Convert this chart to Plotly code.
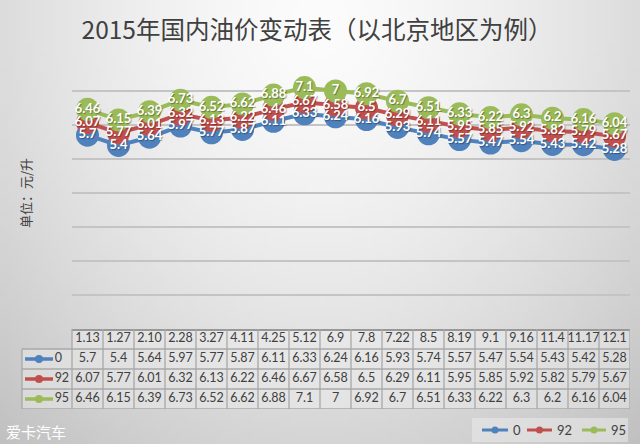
import plotly.graph_objects as go
import zlib, struct, base64

# ---------------- data ----------------
categories = ["1.13", "1.27", "2.10", "2.28", "3.27", "4.11", "4.25", "5.12", "6.9",
              "7.8", "7.22", "8.5", "8.19", "9.1", "9.16", "11.4", "11.17", "12.1"]
s0 = [5.7, 5.4, 5.64, 5.97, 5.77, 5.87, 6.11, 6.33, 6.24, 6.16, 5.93, 5.74, 5.57, 5.47, 5.54, 5.43, 5.42, 5.28]
s92 = [6.07, 5.77, 6.01, 6.32, 6.13, 6.22, 6.46, 6.67, 6.58, 6.5, 6.29, 6.11, 5.95, 5.85, 5.92, 5.82, 5.79, 5.67]
s95 = [6.46, 6.15, 6.39, 6.73, 6.52, 6.62, 6.88, 7.1, 7, 6.92, 6.7, 6.51, 6.33, 6.22, 6.3, 6.2, 6.16, 6.04]
series_names = ["0", "92", "95"]
series_values = [s0, s92, s95]
colors = ["#4F81BD", "#C0504D", "#9BBB59"]
title_text = "2015年国内油价变动表（以北京地区为例）"
y_title = "单位：元/升"
watermark = "爱卡汽车"

W, H = 640, 444


def px(x):
    return x / W


def py(y):
    return 1 - y / H


def fmt(v):
    return f"{v:g}"


# ---------------- background gradient image ----------------
def bg_png(w=128, h=89):
    raw = bytearray()
    for j in range(h):
        raw.append(0)
        for i in range(w):
            x = (i + 0.5) / w
            y = (j + 0.5) / h
            d = (((x - 0.5) / 0.6) ** 2 + ((y - 0.05) / 1.0) ** 2) ** 0.5
            v = int(max(0, min(255, 252 - 42 * d ** 1.5)))
            raw += bytes([v, v, v])

    def chunk(t, data):
        c = struct.pack(">I", len(data)) + t + data
        return c + struct.pack(">I", zlib.crc32(t + data) & 0xFFFFFFFF)

    png = (b"\x89PNG\r\n\x1a\n"
           + chunk(b"IHDR", struct.pack(">IIBBBBB", w, h, 8, 2, 0, 0, 0))
           + chunk(b"IDAT", zlib.compress(bytes(raw)))
           + chunk(b"IEND", b""))
    return "data:image/png;base64," + base64.b64encode(png).decode()


fig = go.Figure()

# ---------------- main lines (markers first, labels on top) ----------------
for name, vals, col in zip(series_names, series_values, colors):
    fig.add_trace(go.Scatter(
        x=categories, y=vals, name=name, mode="lines+markers",
        line=dict(color=col, width=4), marker=dict(size=23, color=col),
        cliponaxis=False, showlegend=False, hoverinfo="skip",
        xaxis="x", yaxis="y"))
for name, vals, col in zip(series_names, series_values, colors):
    fig.add_trace(go.Scatter(
        x=categories, y=vals, mode="text",
        text=[fmt(v) for v in vals], textposition="middle center",
        textfont=dict(family="Lato", size=13, color="white", weight="bold",
                      shadow="1px 1px 1px rgba(0,0,0,0.35)"),
        cliponaxis=False, showlegend=False, hoverinfo="skip",
        xaxis="x", yaxis="y"))

# ---------------- data table (x2 / y2) ----------------
idx = list(range(len(categories)))
fig.add_trace(go.Scatter(
    x=idx, y=[0.5] * len(idx), mode="text", text=categories,
    textfont=dict(family="Lato", size=12.5, color="#404040"),
    showlegend=False, hoverinfo="skip", xaxis="x2", yaxis="y2"))
for r, (name, vals, col) in enumerate(zip(series_names, series_values, colors)):
    fig.add_trace(go.Scatter(
        x=idx, y=[r + 1.5] * len(idx), mode="text", text=[fmt(v) for v in vals],
        textfont=dict(family="Lato", size=12.5, color="#404040"),
        showlegend=False, hoverinfo="skip", xaxis="x2", yaxis="y2"))
    # legend key inside table
    fig.add_trace(go.Scatter(
        x=[-2.016, -1.113], y=[r + 1.5] * 2, mode="lines",
        line=dict(color=col, width=3.5),
        showlegend=False, hoverinfo="skip", xaxis="x2", yaxis="y2"))
    fig.add_trace(go.Scatter(
        x=[-1.565], y=[r + 1.5], mode="markers",
        marker=dict(size=8, color=col),
        showlegend=False, hoverinfo="skip", xaxis="x2", yaxis="y2"))
    fig.add_trace(go.Scatter(
        x=[-1.06], y=[r + 1.5], mode="text", text=[name], textposition="middle right",
        textfont=dict(family="Lato", size=12.5, color="#404040"),
        showlegend=False, hoverinfo="skip", xaxis="x2", yaxis="y2"))

x2_left = -0.5 - 50 / 31
shapes = []
# cell fills
shapes.append(dict(type="rect", xref="x2", yref="y2", x0=-0.5, x1=17.5, y0=0, y1=4,
                   fillcolor="rgba(240,240,240,0.45)", line=dict(width=0), layer="below"))
shapes.append(dict(type="rect", xref="x2", yref="y2", x0=x2_left, x1=-0.5, y0=1, y1=4,
                   fillcolor="rgba(240,240,240,0.45)", line=dict(width=0), layer="below"))
grid_col = "#a8a8a8"
for yy in [1, 2, 3, 4]:
    shapes.append(dict(type="line", xref="x2", yref="y2", x0=x2_left, x1=17.5, y0=yy, y1=yy,
                       line=dict(color=grid_col, width=1.3), layer="below"))
for k in range(len(categories) + 1):
    shapes.append(dict(type="line", xref="x2", yref="y2", x0=-0.5 + k, x1=-0.5 + k, y0=0, y1=4,
                       line=dict(color=grid_col, width=1.3), layer="below"))
shapes.append(dict(type="line", xref="x2", yref="y2", x0=x2_left, x1=x2_left, y0=1, y1=4,
                   line=dict(color=grid_col, width=1.3), layer="below"))

# ---------------- bottom-right legend (manual) ----------------
shapes.append(dict(type="rect", xref="paper", yref="paper", x0=px(472), x1=px(628),
                   y0=py(442), y1=py(418), fillcolor="rgba(235,235,235,0.55)",
                   line=dict(width=0), layer="below"))
annotations = []
leg_items = [(482, 508, "0"), (527, 552, "92"), (582, 606, "95")]
for (x0, x1, lab), col in zip(leg_items, colors):
    shapes.append(dict(type="line", xref="paper", yref="paper", x0=px(x0), x1=px(x1),
                       y0=py(430), y1=py(430), line=dict(color=col, width=3)))
    cx = (x0 + x1) / 2
    shapes.append(dict(type="circle", xref="paper", yref="paper", x0=px(cx - 3.5), x1=px(cx + 3.5),
                       y0=py(433.5), y1=py(426.5), fillcolor=col, line=dict(width=0)))
    annotations.append(dict(text=lab, xref="paper", yref="paper", x=px(x1 + 3), y=py(430),
                            xanchor="left", yanchor="middle", showarrow=False,
                            font=dict(family="Lato", size=13, color="#404040")))

# y-axis title
annotations.append(dict(text=y_title, xref="paper", yref="paper", x=px(25), y=py(193),
                        textangle=-90, showarrow=False, xanchor="center", yanchor="middle",
                        font=dict(family="Noto Sans CJK SC", size=13, color="#404040")))
# watermark
annotations.append(dict(text=watermark, xref="paper", yref="paper", x=px(4), y=py(431),
                        xanchor="left", yanchor="middle", showarrow=False,
                        font=dict(family="Noto Sans CJK SC", size=15, color="white")))

fig.update_layout(
    width=W, height=H,
    margin=dict(l=0, r=0, t=0, b=0),
    paper_bgcolor="#d8d8d8", plot_bgcolor="rgba(0,0,0,0)",
    title=dict(text=title_text, x=px(317), y=py(30), xanchor="center", yanchor="middle",
               font=dict(family="Noto Sans CJK SC", size=24.5, color="#404040")),
    xaxis=dict(domain=[px(72), px(630)], type="category", range=[-0.5, 17.5],
               showticklabels=False, ticks="", showgrid=False, zeroline=False,
               showline=True, linecolor="#505050", linewidth=2, anchor="y"),
    yaxis=dict(domain=[py(329), py(57)], range=[0, 8], dtick=1, showticklabels=False,
               ticks="", showgrid=True, gridcolor="#c4c4c4", gridwidth=1.5,
               zeroline=False, showline=False, anchor="x"),
    xaxis2=dict(domain=[px(20), px(630)], range=[-0.5 - 52 / 31, 17.5],
                visible=False, anchor="y2"),
    yaxis2=dict(domain=[py(409), py(329)], range=[4, 0], visible=False, anchor="x2"),
    shapes=shapes, annotations=annotations,
    images=[dict(source=bg_png(), xref="paper", yref="paper", x=0, y=1, sizex=1, sizey=1,
                 sizing="stretch", xanchor="left", yanchor="top", layer="below")],
    showlegend=False,
)

fig.write_html("out.html")
